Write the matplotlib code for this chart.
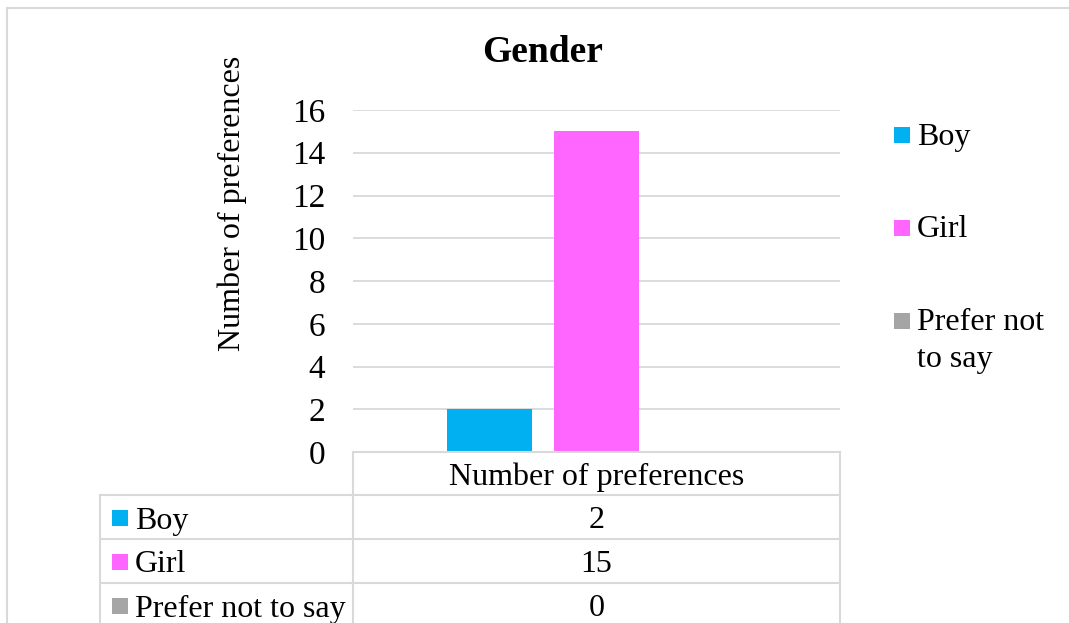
import matplotlib
matplotlib.use("Agg")
import matplotlib.pyplot as plt
from matplotlib.lines import Line2D
from matplotlib.patches import Rectangle

# Survey results: gender of respondents
categories = ["Boy", "Girl", "Prefer not to say"]
legend_labels = ["Boy", "Girl", "Prefer not\nto say"]
counts = [2, 15, 0]
colors = ["#00B0F0", "#FF66FF", "#A5A5A5"]
series_name = "Number of preferences"
title = "Gender"
y_ticks = [0, 2, 4, 6, 8, 10, 12, 14, 16]

plt.rcParams["font.family"] = ["Liberation Serif", "DejaVu Serif"]

W, H = 1069, 623
fig = plt.figure(figsize=(W / 100, H / 100), dpi=100)
GRID = "#D9D9D9"
FS = 23


def fx(px):
    return px / W


def fy(py):
    return 1 - py / H


# Outer chart frame
for (x0, y0, x1, y1) in [(7, 8, W, 8), (7, 8, 7, H)]:
    fig.add_artist(Line2D([fx(x0), fx(x1)], [fy(y0), fy(y1)], color=GRID, lw=1.5))

# Plot area
pl, pr, pt, pb = 353, 840, 110, 452
ax = fig.add_axes([fx(pl), fy(pb), fx(pr - pl), (pb - pt) / H])
positions = [i - (len(counts) - 1) / 2 for i in range(len(counts))]
ax.bar(positions, counts, width=0.80, color=colors, zorder=3)
ax.set_xlim(-2.275, 2.275)
ax.set_ylim(y_ticks[0], y_ticks[-1])
ax.set_yticks(y_ticks)
ax.set_xticks([])
ax.tick_params(axis="y", length=0, pad=20, labelsize=24)
for s in ax.spines.values():
    s.set_visible(False)
ax.grid(axis="y", color=GRID, lw=1.3, zorder=0)
ax.set_axisbelow(True)

# Title and axis label
fig.text(fx(543), fy(52), title, ha="center", va="center", fontsize=27, fontweight="bold")
fig.text(fx(232), fy(203), series_name, ha="center", va="center", rotation=90, fontsize=23)

# Legend on the right
leg_y = [135, 228, 321]
line_step = 36
for lab, c, y in zip(legend_labels, colors, leg_y):
    fig.add_artist(Rectangle((fx(894), fy(y + 8)), fx(16), 16 / H, color=c, lw=0))
    for k, part in enumerate(lab.split("\n")):
        fig.text(fx(917), fy(y + 2 + k * line_step), part, ha="left", va="center", fontsize=FS)

# Data table below the plot area
tl, tm, tr = 100, 353, 840
rows_y = [452, 495, 539, 583, 627]


def hline(x0, x1, y):
    fig.add_artist(Line2D([fx(x0), fx(x1)], [fy(y), fy(y)], color=GRID, lw=1.5))


def vline(x, y0, y1):
    fig.add_artist(Line2D([fx(x), fx(x)], [fy(y0), fy(y1)], color=GRID, lw=1.5))


hline(tm, tr, rows_y[0])
for y in rows_y[1:-1]:
    hline(tl, tr, y)
vline(tm, rows_y[0], H)
vline(tr, rows_y[0], H)
vline(tl, rows_y[1], H)

fig.text(fx((tm + tr) / 2), fy((rows_y[0] + rows_y[1]) / 2 + 4), series_name,
         ha="center", va="center", fontsize=FS)
for i, (cat, val, c) in enumerate(zip(categories, counts, colors)):
    yc = (rows_y[i + 1] + rows_y[i + 2]) / 2 + 1
    fig.add_artist(Rectangle((fx(112), fy(yc + 8)), fx(16), 16 / H, color=c, lw=0))
    fig.text(fx(135), fy(yc + 3), cat, ha="left", va="center", fontsize=FS)
    fig.text(fx((tm + tr) / 2), fy(yc + 3), str(val), ha="center", va="center", fontsize=FS)

fig.savefig("out.png", dpi=100, facecolor="white")
